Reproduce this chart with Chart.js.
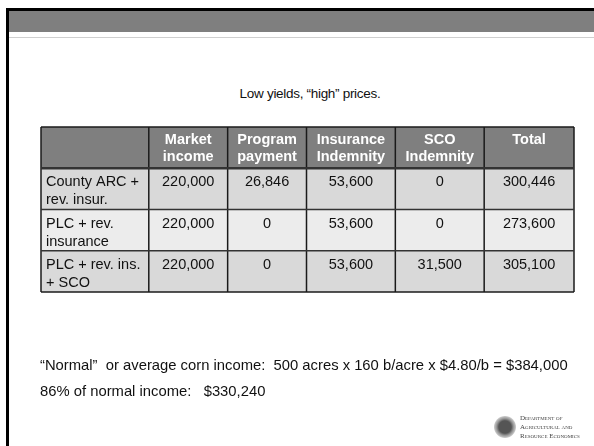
<!DOCTYPE html>
<html>
<head>
<meta charset="utf-8">
<script src="https://cdn.jsdelivr.net/npm/chart.js@4.4.1/dist/chart.umd.min.js"></script>
<style>
  body { margin: 0; background: #fff; }
  #slide { position: relative; width: 594px; height: 446px; overflow: hidden; font-family: "Liberation Sans", Arial, sans-serif; }
  #topLine { position: absolute; left: 6px; top: 8px; width: 588px; height: 3px; background: #000; }
  #leftLine { position: absolute; left: 6px; top: 8px; width: 3px; height: 438px; background: #000; }
  #band { position: absolute; left: 9px; top: 11px; width: 585px; height: 21px; background: #7f7f7f; }
  #rule { position: absolute; left: 9px; top: 37px; width: 585px; height: 1px; background: #cfcfcf; }
  #title { position: absolute; left: 0; width: 620px; top: 86px; text-align: center; font-size: 13.5px; letter-spacing: -0.3px; color: #111; }
  .note { position: absolute; left: 40px; font-size: 14.8px; color: #111; white-space: pre; }
  #seal { position: absolute; left: 494px; top: 416px; width: 22px; height: 22px; border-radius: 50%; background: radial-gradient(circle, #555 0 40%, #999 55%, #ddd 75%, #fff 100%); }
  #dept { position: absolute; left: 520px; top: 414px; font-family: "Liberation Serif", serif; font-size: 7px; line-height: 9px; color: #444; font-variant: small-caps; }
  canvas { position: absolute; left: 0; top: 0; }
</style>
</head>
<body>
<div id="slide">
  <div id="band"></div>
  <div id="topLine"></div>
  <div id="leftLine"></div>
  <div id="rule"></div>
  <div id="title">Low yields,  “high” prices.</div>
  <canvas id="myChart" width="594" height="446"></canvas>
  <div class="note" style="top:357px">“Normal”  or average corn income:  500 acres x 160 b/acre x $4.80/b = $384,000</div>
  <div class="note" style="top:383px">86% of normal income:   $330,240</div>
  <div id="seal"></div>
  <div id="dept">Department of<br>Agricultural and<br>Resource Economics</div>
</div>
<script>
// table contents
var rowNames = ['County ARC +\nrev. insur.', 'PLC + rev.\ninsurance', 'PLC + rev. ins.\n+ SCO'];
var columnNames = ['', 'Market\nincome', 'Program\npayment', 'Insurance\nIndemnity', 'SCO\nIndemnity', 'Total'];
var marketIncome = [220000, 220000, 220000];
var programPayment = [26846, 0, 0];
var insuranceIndemnity = [53600, 53600, 53600];
var scoIndemnity = [0, 0, 31500];
var total = [300446, 273600, 305100];

var columns = [marketIncome, programPayment, insuranceIndemnity, scoIndemnity, total];
// relative column widths (layout only)
var colWidths = [108, 79, 79, 89, 89, 90];
var colEdges = [0];
colWidths.forEach(function (w) { colEdges.push(colEdges[colEdges.length - 1] + w); });

var rowFills = ['#7f7f7f', '#d9d9d9', '#ececec', '#d9d9d9'];

var tablePlugin = {
    id: 'table',
    afterDraw: function (chart) {
        var c = chart.ctx;
        var xs = chart.scales.x, ys = chart.scales.y;
        var nRows = rowNames.length + 1;
        c.save();
        for (var r = 0; r < nRows; r++) {
            var top = ys.getPixelForValue(r - 0.5);
            var bottom = ys.getPixelForValue(r + 0.5);
            c.fillStyle = rowFills[r];
            c.fillRect(xs.getPixelForValue(0), top, xs.getPixelForValue(colEdges[colEdges.length - 1]) - xs.getPixelForValue(0), bottom - top);
            for (var k = 0; k < columnNames.length; k++) {
                var left = xs.getPixelForValue(colEdges[k]);
                var right = xs.getPixelForValue(colEdges[k + 1]);
                var lines;
                c.textBaseline = 'middle';
                if (r === 0) {
                    lines = columnNames[k].split('\n');
                    c.font = 'bold 14.5px "Liberation Sans", Arial, sans-serif';
                    c.fillStyle = '#fff';
                    c.textAlign = 'center';
                    lines.forEach(function (t, i) { c.fillText(t, (left + right) / 2, top + 13 + i * 17); });
                } else {
                    c.font = '14.5px "Liberation Sans", Arial, sans-serif';
                    c.fillStyle = '#111';
                    if (k === 0) {
                        lines = rowNames[r - 1].split('\n');
                        c.textAlign = 'left';
                        lines.forEach(function (t, i) { c.fillText(t, left + 5, top + 14 + i * 18); });
                    } else {
                        c.textAlign = 'center';
                        c.fillText(columns[k - 1][r - 1].toLocaleString('en-US'), (left + right) / 2, top + 14);
                    }
                }
            }
        }
        // grid lines
        c.strokeStyle = '#1a1a1a';
        c.lineWidth = 1.5;
        var yTop = ys.getPixelForValue(-0.5), yBot = ys.getPixelForValue(nRows - 0.5);
        var xL = xs.getPixelForValue(0), xR = xs.getPixelForValue(colEdges[colEdges.length - 1]);
        colEdges.forEach(function (e) {
            var x = xs.getPixelForValue(e);
            c.beginPath(); c.moveTo(x, yTop); c.lineTo(x, yBot); c.stroke();
        });
        for (var r2 = 0; r2 <= nRows; r2++) {
            var y = ys.getPixelForValue(r2 - 0.5);
            c.strokeStyle = (r2 === 0 || r2 === nRows) ? '#1a1a1a' : '#333';
            c.lineWidth = r2 === 1 ? 2.5 : 1.5;
            c.beginPath(); c.moveTo(xL, y); c.lineTo(xR, y); c.stroke();
        }
        c.restore();
    }
};

var ctx = document.getElementById('myChart').getContext('2d');
var myChart = new Chart(ctx, {
    type: 'bar',
    data: {
        labels: ['header'].concat(rowNames),
        datasets: []
    },
    options: {
        responsive: false,
        animation: false,
        layout: { padding: { left: 41, top: 127, right: 20, bottom: 154 } },
        plugins: { legend: { display: false }, tooltip: { enabled: false } },
        scales: {
            x: { type: 'linear', min: 0, max: colEdges[colEdges.length - 1], offset: false, display: false },
            y: { type: 'category', labels: ['header'].concat(rowNames), offset: true, display: false }
        }
    },
    plugins: [tablePlugin]
});
</script>
</body>
</html>
